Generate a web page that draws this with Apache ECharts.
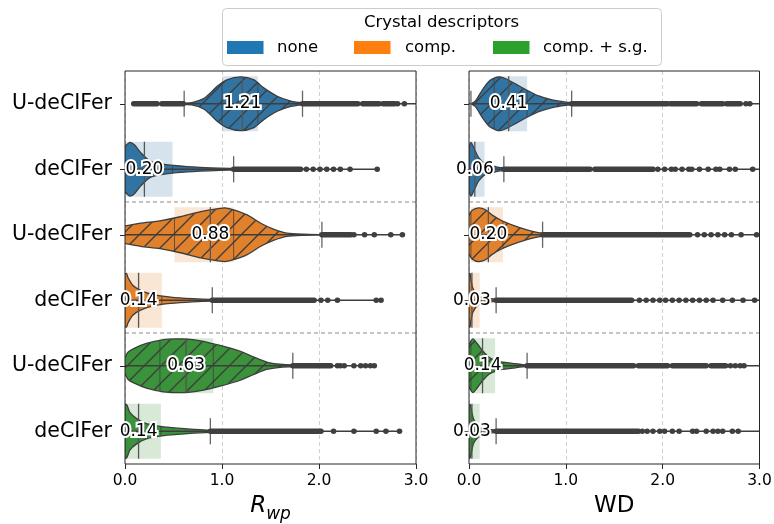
<!DOCTYPE html>
<html><head><meta charset="utf-8">
<script src="https://cdn.jsdelivr.net/npm/echarts@6/dist/echarts.min.js"></script>
<style>html,body{margin:0;padding:0;background:#fff}#c{width:774px;height:524px}</style>
</head><body><div id="c"></div>
<script>
// ---------------- data ----------------
const rowLabels = ['U-deCIFer', 'deCIFer', 'U-deCIFer', 'deCIFer', 'U-deCIFer', 'deCIFer'];
const rowDescriptor = [0, 0, 1, 1, 2, 2];
const rowHatched = [1, 0, 1, 0, 1, 0];
const descriptorNames = ['none', 'comp.', 'comp. + s.g.'];
const legendTitle = 'Crystal descriptors';
const xTickValues = [0, 1, 2, 3];

// R_wp panel
const rwpMedian = [1.21, 0.20, 0.88, 0.14, 0.63, 0.14];
const rwpQ1 = [1.00, 0.00, 0.51, 0.00, 0.36, 0.00];
const rwpQ3 = [1.37, 0.49, 1.12, 0.38, 0.91, 0.37];
const rwpWhiskerLow = [0.61, 0, 0, 0, 0, 0];
const rwpWhiskerHigh = [1.83, 1.12, 2.03, 0.90, 1.73, 0.88];
const rwpMin = [0.09, 0, 0, 0, 0, 0];
const rwpMax = [3.2, 2.60, 2.86, 2.64, 2.57, 2.83];
const rwpDensity = [
  [[0.45,0],[0.6,0.02],[0.7,0.05],[0.81,0.19],[0.88,0.4],[0.95,0.65],[1.05,0.89],[1.19,1.0],[1.33,0.89],[1.43,0.59],[1.57,0.28],[1.71,0.1],[1.83,0.04],[2.0,0.015],[2.3,0]],
  [[-0.05,0.75],[0,0.85],[0.05,1.0],[0.10,0.9],[0.16,0.63],[0.26,0.3],[0.39,0.19],[0.64,0.1],[0.98,0.04],[1.2,0.02],[1.6,0.01],[1.9,0]],
  [[-0.05,0.3],[0,0.33],[0.16,0.43],[0.36,0.52],[0.57,0.67],[0.78,0.86],[0.98,0.98],[1.03,1.0],[1.12,0.93],[1.26,0.74],[1.40,0.43],[1.53,0.21],[1.67,0.06],[1.84,0.02],[2.1,0]],
  [[-0.03,0.9],[0.015,1.0],[0.03,0.85],[0.08,0.56],[0.16,0.37],[0.29,0.21],[0.47,0.12],[0.70,0.06],[0.9,0.03],[1.2,0.015],[1.6,0]],
  [[-0.02,0.2],[0,0.3],[0.03,0.5],[0.09,0.64],[0.22,0.83],[0.40,0.97],[0.52,1.0],[0.65,0.99],[0.78,0.93],[0.98,0.76],[1.19,0.54],[1.33,0.32],[1.47,0.13],[1.60,0.06],[1.73,0.03],[2.0,0]],
  [[-0.03,0.9],[0.015,1.0],[0.05,0.7],[0.12,0.47],[0.22,0.28],[0.40,0.16],[0.64,0.09],[0.88,0.04],[1.2,0.015],[1.6,0]]
];
const rwpOutlierRuns = [
  [[0.09,0.33],[0.38,0.60],[1.83,2.40],[2.45,2.62],[2.66,2.78]],
  [[1.12,1.81]],
  [[2.03,2.33]],
  [[0.90,1.95]],
  [[1.73,2.12]],
  [[0.88,2.02]]
];
const rwpOutlierDots = [
  [2.81, 2.88],
  [1.87, 1.94, 2.01, 2.08, 2.15, 2.22, 2.32, 2.60],
  [2.36, 2.47, 2.57, 2.74, 2.86],
  [2.02, 2.09, 2.19, 2.59, 2.64],
  [2.19, 2.22, 2.26, 2.36, 2.43, 2.48, 2.53, 2.57],
  [2.15, 2.36, 2.59, 2.69, 2.83]
];

// WD panel
const wdMedian = [0.41, 0.06, 0.20, 0.03, 0.14, 0.03];
const wdQ1 = [0.26, 0.00, 0.02, 0.00, 0.02, 0.00];
const wdQ3 = [0.60, 0.16, 0.35, 0.11, 0.27, 0.11];
const wdWhiskerLow = [0.02, 0, 0, 0, 0, 0];
const wdWhiskerHigh = [1.06, 0.36, 0.76, 0.28, 0.60, 0.28];
const wdMin = [0, 0, 0, 0, 0, 0];
const wdMax = [3.2, 3.2, 3.2, 3.2, 3.2, 3.2];
const wdDensity = [
  [[0.02,0],[0.04,0.04],[0.07,0.12],[0.14,0.53],[0.21,0.85],[0.29,0.99],[0.32,1.0],[0.38,0.93],[0.48,0.74],[0.59,0.52],[0.72,0.29],[0.86,0.14],[1.0,0.06],[1.1,0.03],[1.4,0]],
  [[-0.02,0.6],[0,0.8],[0.02,1.0],[0.05,0.8],[0.10,0.43],[0.17,0.19],[0.28,0.09],[0.36,0.05],[0.6,0.02],[1.0,0]],
  [[-0.02,0.6],[0,0.72],[0.03,0.9],[0.10,1.0],[0.17,0.93],[0.24,0.73],[0.34,0.52],[0.45,0.36],[0.59,0.19],[0.69,0.1],[0.76,0.06],[1.0,0.02],[1.4,0]],
  [[-0.02,0.9],[0.01,1.0],[0.02,0.77],[0.04,0.45],[0.09,0.19],[0.17,0.09],[0.28,0.04],[0.5,0.015],[0.9,0]],
  [[-0.02,0.6],[0,0.8],[0.04,1.0],[0.09,0.8],[0.14,0.56],[0.21,0.31],[0.31,0.16],[0.45,0.09],[0.55,0.04],[0.65,0.02],[1.0,0]],
  [[-0.02,0.9],[0.01,1.0],[0.03,0.7],[0.05,0.43],[0.10,0.21],[0.19,0.09],[0.28,0.04],[0.5,0.015],[0.9,0]]
];
const wdOutlierRuns = [
  [[1.06,2.05],[2.08,2.35],[2.40,2.62],[2.66,2.80]],
  [[0.36,1.25],[1.30,1.90]],
  [[0.76,2.28]],
  [[0.28,1.68]],
  [[0.60,1.70],[1.75,2.05],[2.10,2.45],[2.50,2.65]],
  [[0.28,1.75]]
];
const wdOutlierDots = [
  [2.86, 2.90],
  [1.95, 2.02, 2.09, 2.13, 2.20, 2.27, 2.30, 2.38, 2.47, 2.55, 2.59, 2.69, 2.75, 2.93],
  [2.36, 2.43, 2.50, 2.57, 2.64, 2.71, 2.81, 2.97],
  [1.76, 1.83, 1.90, 1.97, 2.03, 2.10, 2.17, 2.24, 2.31, 2.38, 2.45, 2.52, 2.62, 2.72, 2.83, 2.95],
  [2.70, 2.75, 2.80, 2.84],
  [1.79, 1.84, 1.90, 1.97, 2.02, 2.10, 2.17, 2.31, 2.35, 2.45, 2.52, 2.57, 2.62, 2.72, 2.78]
];

// ---------------- styles ----------------
const FONT = 'DejaVu Sans';
const legendColors = ['#1f77b4', '#ff7f0e', '#2ca02c'];
const violinColors = ['#3274a1', '#e1812c', '#3a923a'];
const boxColors = ['rgba(50,116,161,0.2)', 'rgba(225,129,44,0.2)', 'rgba(58,146,58,0.2)'];
const EDGE = '#3d3d3d';
const DOT = '#3f3f3f';

function hatchPattern(color) {
  const s = 17, cv = document.createElement('canvas');
  cv.width = s; cv.height = s;
  const ctx = cv.getContext('2d');
  ctx.fillStyle = color; ctx.fillRect(0, 0, s, s);
  ctx.strokeStyle = EDGE; ctx.lineWidth = 1.3;
  [[0, s, s, 0], [-s, s, s, -s], [0, 2 * s, 2 * s, 0]].forEach(l => {
    ctx.beginPath(); ctx.moveTo(l[0], l[1]); ctx.lineTo(l[2], l[3]); ctx.stroke();
  });
  return { type: 'pattern', image: cv, repeat: 'repeat' };
}
const hatchFills = violinColors.map(hatchPattern);

function densAt(d, v) {
  if (v <= d[0][0]) return d[0][1];
  for (let k = 1; k < d.length; k++) {
    if (v <= d[k][0]) {
      const t = (v - d[k - 1][0]) / (d[k][0] - d[k - 1][0]);
      return d[k - 1][1] + t * (d[k][1] - d[k - 1][1]);
    }
  }
  return 0;
}

const rwpPanel = { median: rwpMedian, q1: rwpQ1, q3: rwpQ3, wlo: rwpWhiskerLow, whi: rwpWhiskerHigh, min: rwpMin, max: rwpMax, dens: rwpDensity, runs: rwpOutlierRuns, dots: rwpOutlierDots };
const wdPanel = { median: wdMedian, q1: wdQ1, q3: wdQ3, wlo: wdWhiskerLow, whi: wdWhiskerHigh, min: wdMin, max: wdMax, dens: wdDensity, runs: wdOutlierRuns, dots: wdOutlierDots };

function makeViolin(P) {
  return function (params, api) {
    const i = api.value(0);
    const cy = api.coord([0, i])[1];
    const band = api.size([0, 1])[1];
    const X = v => api.coord([v, i])[0];
    const g = rowDescriptor[i];
    const ch = [];
    const bh = band * 0.42, vw = band * 0.41;
    ch.push({ type: 'rect', shape: { x: X(P.q1[i]), y: cy - bh, width: X(P.q3[i]) - X(P.q1[i]), height: 2 * bh },
      style: { fill: boxColors[g] } });
    const d = P.dens[i];
    const top = d.map(p => [X(p[0]), cy - p[1] * vw]);
    let botSrc = d.slice().reverse();
    if (botSrc[0][1] === 0) botSrc = botSrc.slice(1);
    if (botSrc[botSrc.length - 1][1] === 0) botSrc = botSrc.slice(0, -1);
    const bot = botSrc.map(p => [X(p[0]), cy + p[1] * vw]);
    ch.push({ type: 'polygon', shape: { points: top.concat(bot), smooth: 0.25 },
      style: { fill: rowHatched[i] ? hatchFills[g] : violinColors[g], stroke: EDGE, lineWidth: 1.3 } });
    ch.push({ type: 'line', shape: { x1: X(P.min[i]), y1: cy, x2: X(P.max[i]), y2: cy }, style: { stroke: EDGE, lineWidth: 1.6 } });
    [P.q1[i], P.q3[i]].forEach(q => {
      const w = densAt(d, q) * vw;
      ch.push({ type: 'line', shape: { x1: X(q), y1: cy - w, x2: X(q), y2: cy + w }, style: { stroke: EDGE, lineWidth: 1, opacity: 0.75 } });
    });
    ch.push({ type: 'line', shape: { x1: X(P.median[i]), y1: cy - bh, x2: X(P.median[i]), y2: cy + bh }, style: { stroke: '#555', lineWidth: 1.3 } });
    [P.wlo[i], P.whi[i]].forEach(w => {
      if (w > 0) ch.push({ type: 'line', shape: { x1: X(w), y1: cy - band * 0.2, x2: X(w), y2: cy + band * 0.2 }, style: { stroke: '#666', lineWidth: 1.3 } });
    });
    P.runs[i].forEach(r => {
      ch.push({ type: 'line', shape: { x1: X(r[0]), y1: cy, x2: X(r[1]), y2: cy }, style: { stroke: DOT, lineWidth: 5.6, lineCap: 'round' } });
    });
    P.dots[i].forEach(v => {
      ch.push({ type: 'circle', shape: { cx: X(v), cy: cy, r: 2.8 }, style: { fill: DOT } });
    });
    if (i === 1 || i === 3) {
      ch.push({ type: 'line', shape: { x1: X(0), y1: cy + band / 2, x2: X(3), y2: cy + band / 2 }, style: { stroke: '#8a8a8a', lineWidth: 1, lineDash: [4, 3] } });
    }
    return { type: 'group', children: ch };
  };
}

function makeLabel(P) {
  return function (params, api) {
    const i = api.value(0);
    const pt = api.coord([P.median[i], i]);
    return { type: 'text', x: pt[0], y: pt[1],
      style: { text: P.median[i].toFixed(2), fill: '#000', stroke: '#fff', lineWidth: 4, strokeFirst: true,
        align: 'center', verticalAlign: 'middle', fontSize: 17, fontFamily: FONT } };
  };
}

const rowData = rowLabels.map((_, i) => [i]);

function xAxisFor(idx, name, rich) {
  return {
    gridIndex: idx, type: 'value', min: xTickValues[0], max: xTickValues[xTickValues.length - 1], interval: 1,
    name: name, nameLocation: 'middle', nameGap: 31,
    nameTextStyle: { fontFamily: FONT, fontSize: 23, color: '#000', rich: rich },
    axisLine: { show: false },
    axisTick: { show: true, length: 5, lineStyle: { color: '#262626', width: 1 } },
    axisLabel: { formatter: v => v.toFixed(1), fontSize: 15.5, color: '#000', margin: 9, fontFamily: FONT, hideOverlap: false, showMinLabel: true, showMaxLabel: true },
    splitLine: { show: true, lineStyle: { color: '#d0d0d0', type: [4, 3], width: 1 } }
  };
}
function yAxisFor(idx, showLabels) {
  return {
    gridIndex: idx, type: 'category', data: rowLabels, inverse: true,
    axisLine: { show: false },
    axisTick: { show: true, alignWithLabel: true, length: 5, interval: 0, lineStyle: { color: '#262626', width: 1 } },
    axisLabel: { show: showLabels, fontSize: 20.5, color: '#000', margin: 13, fontFamily: FONT, interval: 0 },
    splitLine: { show: false }
  };
}

const rwpRich = {
  i: { fontSize: 23, fontStyle: 'italic', fontFamily: FONT, color: '#000', verticalAlign: 'top' },
  s: { fontSize: 17, fontStyle: 'italic', fontFamily: FONT, color: '#000', verticalAlign: 'top', padding: [11, 0, 0, 0] }
};

const legendGraphic = [
  { type: 'rect', left: 222, top: 8, shape: { width: 439, height: 57, r: 4 }, style: { fill: '#fff', stroke: '#cccccc', lineWidth: 1 }, z: 10 },
  { type: 'text', x: 441.5, y: 23, style: { text: legendTitle, fontSize: 16.5, fontFamily: FONT, fill: '#000', align: 'center', verticalAlign: 'middle' }, z: 11 }
];
const swatchX = [227, 354, 493], textX = [277, 405, 543];
descriptorNames.forEach((n, k) => {
  legendGraphic.push({ type: 'rect', x: swatchX[k], y: 41, shape: { width: 36.5, height: 13 }, style: { fill: legendColors[k] }, z: 11 });
  legendGraphic.push({ type: 'text', x: textX[k], y: 48, style: { text: n, fontSize: 16.5, fontFamily: FONT, fill: '#000', align: 'left', verticalAlign: 'middle' }, z: 11 });
});

const chart = echarts.init(document.getElementById('c'), null, { renderer: 'canvas' });
chart.setOption({
  animation: false,
  backgroundColor: '#fff',
  textStyle: { fontFamily: FONT },
  grid: [
    { left: 125, top: 71, width: 291, height: 393, show: true, borderColor: '#262626', borderWidth: 1, backgroundColor: 'transparent', z: 5, containLabel: false, outerBoundsMode: 'none' },
    { left: 469, top: 71, width: 290.5, height: 393, show: true, borderColor: '#262626', borderWidth: 1, backgroundColor: 'transparent', z: 5, containLabel: false, outerBoundsMode: 'none' }
  ],
  xAxis: [xAxisFor(0, '{i|R}{s|wp}', rwpRich), xAxisFor(1, 'WD', undefined)],
  yAxis: [yAxisFor(0, true), yAxisFor(1, false)],
  graphic: legendGraphic,
  series: [
    { type: 'custom', name: 'Rwp violins', xAxisIndex: 0, yAxisIndex: 0, clip: true, z: 2, silent: true, data: rowData, renderItem: makeViolin(rwpPanel) },
    { type: 'custom', name: 'WD violins', xAxisIndex: 1, yAxisIndex: 1, clip: true, z: 2, silent: true, data: rowData, renderItem: makeViolin(wdPanel) },
    { type: 'custom', name: 'Rwp medians', xAxisIndex: 0, yAxisIndex: 0, clip: false, z: 8, silent: true, data: rowData, renderItem: makeLabel(rwpPanel) },
    { type: 'custom', name: 'WD medians', xAxisIndex: 1, yAxisIndex: 1, clip: false, z: 8, silent: true, data: rowData, renderItem: makeLabel(wdPanel) }
  ]
});
</script></body></html>
